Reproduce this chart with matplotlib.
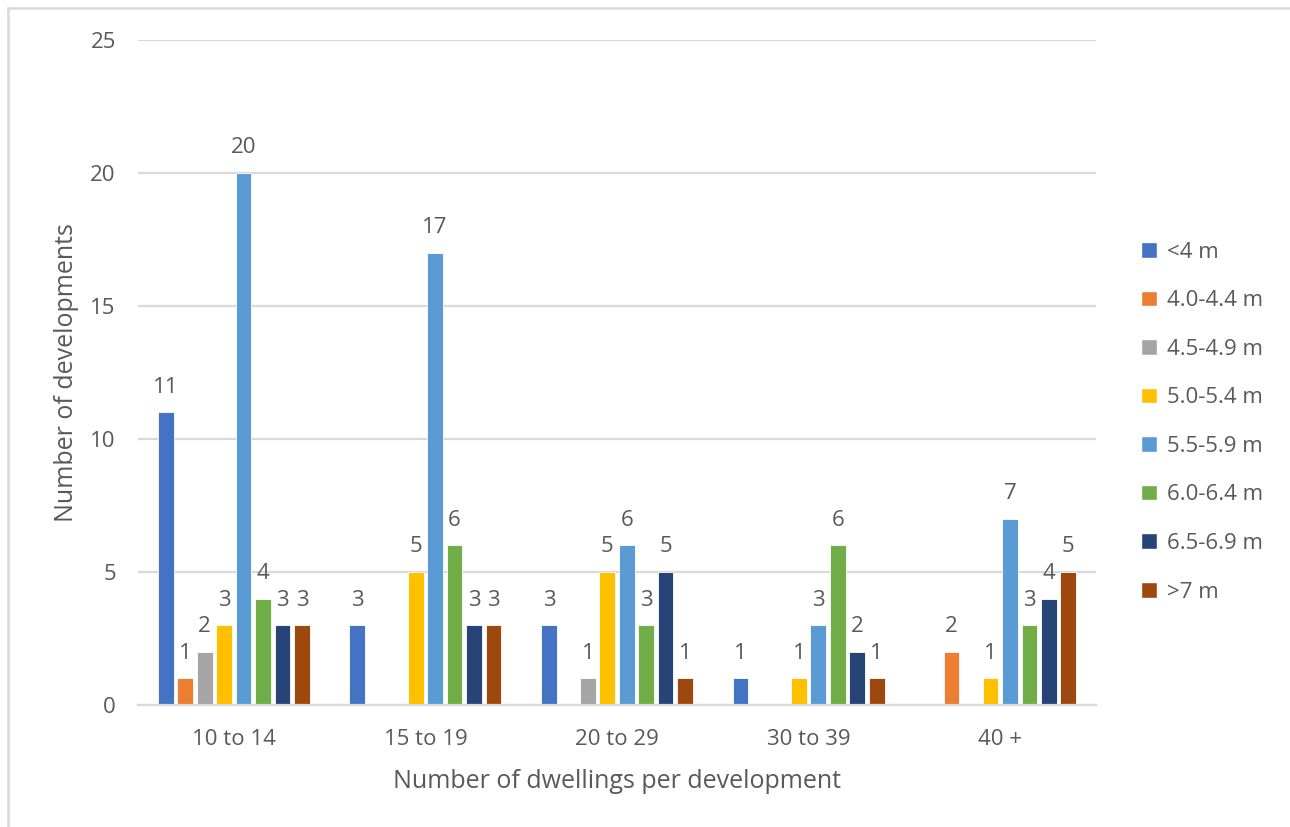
import matplotlib.pyplot as plt
from matplotlib.lines import Line2D
from matplotlib.patches import Patch
import numpy as np

plt.rcParams['font.family'] = ['Open Sans', 'DejaVu Sans']

groups = ['10 to 14', '15 to 19', '20 to 29', '30 to 39', '40 +']
widths = ['<4 m', '4.0-4.4 m', '4.5-4.9 m', '5.0-5.4 m',
          '5.5-5.9 m', '6.0-6.4 m', '6.5-6.9 m', '>7 m']
counts = [
    [11, 3, 3, 1, 0],
    [1, 0, 0, 0, 2],
    [2, 0, 1, 0, 0],
    [3, 5, 5, 1, 1],
    [20, 17, 6, 3, 7],
    [4, 6, 3, 6, 3],
    [3, 3, 5, 2, 4],
    [3, 3, 1, 1, 5],
]
colors = ['#4472C4', '#ED7D31', '#A5A5A5', '#FFC000',
          '#5B9BD5', '#70AD47', '#264478', '#9E480E']

text_col = '#595959'
grid_col = '#D9D9D9'
fs = 16

fig = plt.figure(figsize=(12.9, 8.27), dpi=100)
ax = fig.add_axes([0.107, 0.1475, 0.7426, 0.8041])

x = np.arange(len(groups))
step = 0.1015
bw = 0.082
for i, (name, vals, c) in enumerate(zip(widths, counts, colors)):
    pos = x + (i - 3.5) * step
    ax.bar(pos, vals, width=bw, color=c, edgecolor='white', linewidth=0.6,
           zorder=3, label=name)
    for px, v in zip(pos, vals):
        if v > 0:
            ax.text(px, v + 0.55, str(v), ha='center', va='bottom',
                    fontsize=fs, color=text_col)

ax.set_xlim(-0.5, 4.5)
ax.set_ylim(0, 25)
ax.set_yticks(range(0, 26, 5))
ax.set_xticks(x)
ax.set_xticklabels(groups)
ax.tick_params(axis='both', length=0, labelsize=fs, labelcolor=text_col)
ax.tick_params(axis='y', pad=16)
ax.tick_params(axis='x', pad=17)
ax.yaxis.grid(True, color=grid_col, linewidth=1.6, zorder=0)
for s in ['top', 'right', 'left']:
    ax.spines[s].set_visible(False)
ax.spines['bottom'].set_color(grid_col)
ax.spines['bottom'].set_linewidth(1.6)
ax.spines['bottom'].set_zorder(4)

ax.set_xlabel('Number of dwellings per development', fontsize=18,
              color=text_col, labelpad=14)
ax.set_ylabel('Number of developments', fontsize=18, color=text_col,
              labelpad=8)

handles = [Patch(facecolor=c, edgecolor='white') for c in colors]
fig.legend(handles, widths, loc='upper left', bbox_to_anchor=(0.869, 0.732),
           frameon=False, fontsize=fs, labelcolor=text_col,
           handlelength=0.7, handleheight=0.7, handletextpad=0.45,
           labelspacing=1.24)

# chart frame edges
fig.add_artist(Line2D([0.0065, 0.0065], [0.99, 0.0], color=grid_col,
                      linewidth=1.8, transform=fig.transFigure))
fig.add_artist(Line2D([0.0065, 1.0], [0.99, 0.99], color=grid_col,
                      linewidth=1.8, transform=fig.transFigure))

fig.savefig('out.png', dpi=100)
